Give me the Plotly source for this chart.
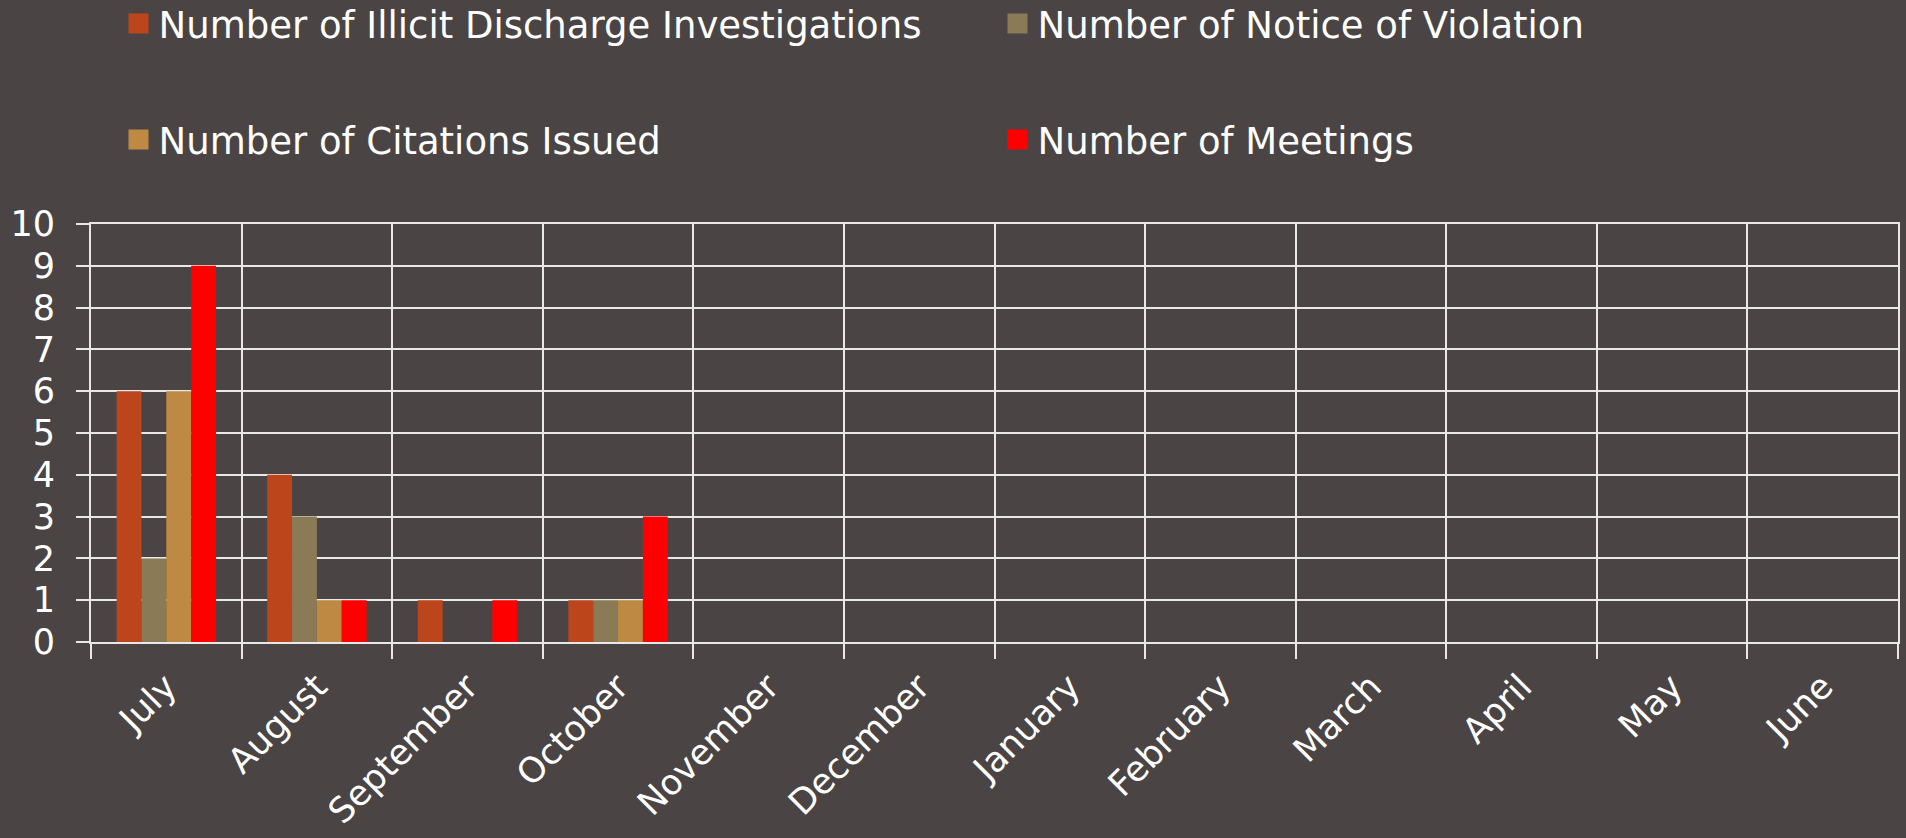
import plotly.graph_objects as go

months = ["July", "August", "September", "October", "November", "December",
          "January", "February", "March", "April", "May", "June"]
investigations = [6, 4, 1, 1, None, None, None, None, None, None, None, None]
violations = [2, 3, 0, 1, None, None, None, None, None, None, None, None]
citations = [6, 1, 0, 1, None, None, None, None, None, None, None, None]
meetings = [9, 1, 1, 3, None, None, None, None, None, None, None, None]

series_names = ["Number of Illicit Discharge Investigations",
                "Number of Notice of Violation",
                "Number of Citations Issued",
                "Number of Meetings"]
series_values = [investigations, violations, citations, meetings]
series_colors = ["#BD451C", "#8A7A56", "#BE8942", "#FF0000"]

W, H = 1906, 838
FONT = "DejaVu Sans"
# legend slot (left x, centre y) in pixels for each series
legend_slots = [(118.5, 24), (997.5, 24), (118.5, 140), (997.5, 140)]

fig = go.Figure()
for i, (name, vals, col) in enumerate(zip(series_names, series_values, series_colors)):
    lg = "legend" if i == 0 else f"legend{i + 1}"
    fig.add_trace(go.Bar(x=months, y=vals, name=name, marker_color=col,
                         marker_line_width=0, legendgroup=name, showlegend=False))
    # legend-only entry with a larger square swatch
    fig.add_trace(go.Scatter(x=[None], y=[None], mode="markers", name=name,
                             legendgroup=name, legend=lg,
                             marker=dict(symbol="square", size=16, color=col,
                                         line=dict(color=col, width=4))))

layout_legends = {}
for i, (lx, ly) in enumerate(legend_slots):
    key = "legend" if i == 0 else f"legend{i + 1}"
    layout_legends[key] = dict(
        orientation="h", xref="container", yref="container",
        x=lx / W, y=1 - ly / H, xanchor="left", yanchor="middle",
        bgcolor="rgba(0,0,0,0)",
        font=dict(family=FONT, size=37, color="white"))

fig.update_layout(
    width=W, height=H,
    paper_bgcolor="#4A4544", plot_bgcolor="#4A4544",
    margin=dict(l=91, r=8, t=224, b=196),
    barmode="group", bargap=0.34, bargroupgap=0,
    font=dict(family=FONT, color="white"),
    xaxis=dict(type="category", tickson="boundaries", showgrid=True,
               gridcolor="#E8E8E8", gridwidth=2, ticks="outside", ticklen=15,
               tickwidth=2, tickcolor="#E8E8E8", tickangle=-45,
               ticklabelstandoff=8, automargin=False,
               tickfont=dict(family=FONT, size=35, color="white"),
               showline=True, linecolor="#E8E8E8", linewidth=2, mirror=True),
    yaxis=dict(range=[0, 10], dtick=1, showgrid=True, gridcolor="#E8E8E8",
               gridwidth=2, ticks="outside", ticklen=13, tickwidth=2,
               tickcolor="#E8E8E8", zeroline=False, ticklabelstandoff=14,
               automargin=False,
               tickfont=dict(family=FONT, size=35, color="white"),
               showline=True, linecolor="#E8E8E8", linewidth=2, mirror=True),
    **layout_legends,
)

fig.write_html("out.html",
               config={"displayModeBar": False},
               post_script="document.body.style.margin='0';"
                           "document.body.style.overflow='hidden';")
